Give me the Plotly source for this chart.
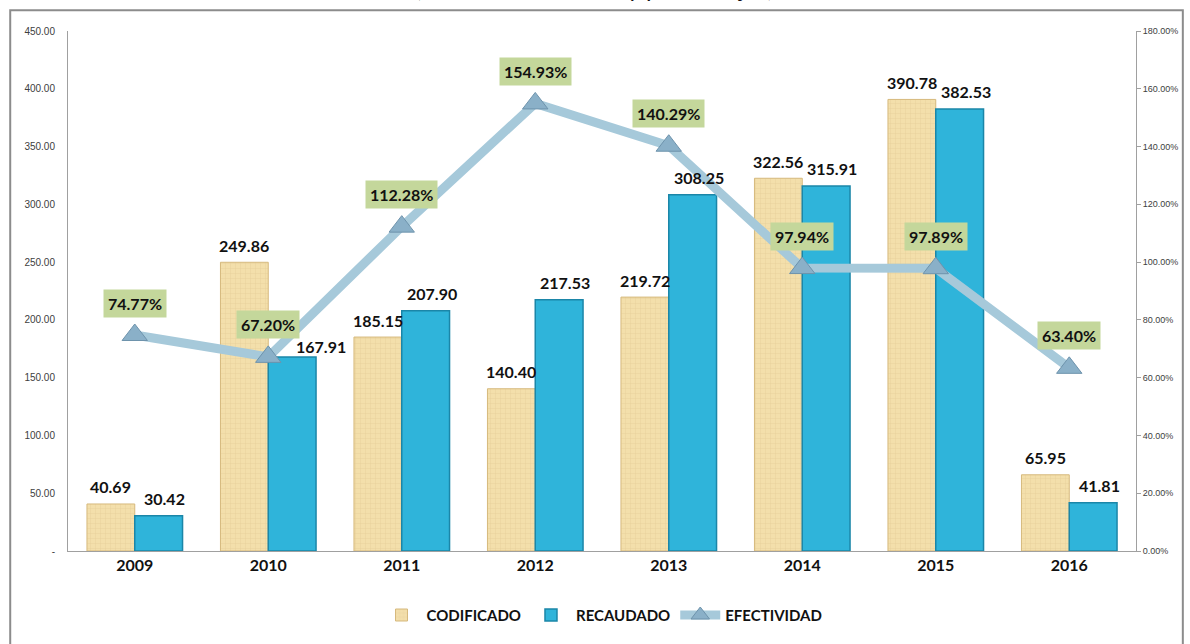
import plotly.graph_objects as go

# Datos anuales (millones de dólares) y efectividad de recaudación
anios = ["2009", "2010", "2011", "2012", "2013", "2014", "2015", "2016"]
codificado = [40.69, 249.86, 185.15, 140.40, 219.72, 322.56, 390.78, 65.95]
recaudado = [30.42, 167.91, 207.90, 217.53, 308.25, 315.91, 382.53, 41.81]
efectividad = [0.7477, 0.6720, 1.1228, 1.5493, 1.4029, 0.9794, 0.9789, 0.6340]

ticks_izq = [0, 50, 100, 150, 200, 250, 300, 350, 400, 450]
ticks_izq_txt = ["-"] + [f"{v:.2f}" for v in ticks_izq[1:]]
ticks_der = [0, 0.2, 0.4, 0.6, 0.8, 1.0, 1.2, 1.4, 1.6, 1.8]

W, H = 1190, 644
L, R, T, B = 68, 50, 31, 87
pw, ph = W - L - R, H - T - B
BARGAP = 0.284
half = (1 - BARGAP) / 4  # distance from category centre to each bar centre

# Desplazamientos (px) de las etiquetas de RECAUDADO; la de 2010 se aparta
# del marcador de efectividad
rec_dx = {i: 6 for i in range(len(anios))}
rec_dy = {i: 17 for i in range(len(anios))}
rec_dx[1], rec_dy[1] = 29, 10


def px_x(p):
    return (p - L) / pw


def px_y(p):
    return (H - B - p) / ph


FONT = "Lato"
LABEL_FONT = dict(family=FONT, size=16, color="#111111", weight="bold")

fig = go.Figure()

fig.add_trace(go.Bar(
    name="CODIFICADO", x=anios, y=codificado,
    marker=dict(
        color="#F1DCA6",
        line=dict(color="#D6B97D", width=1),
        pattern=dict(shape="+", fgcolor="#DCC38C", bgcolor="#F3DFAB",
                     size=5, solidity=0.15, fgopacity=0.6),
    ),
))

fig.add_trace(go.Bar(
    name="RECAUDADO", x=anios, y=recaudado,
    marker=dict(color="#2FB4DA", line=dict(color="#1B86A8", width=1.5)),
))

fig.add_trace(go.Scatter(
    name="EFECTIVIDAD", x=anios, y=efectividad, yaxis="y2",
    mode="lines+markers",
    line=dict(color="#A6C9DA", width=9),
    marker=dict(symbol="triangle-up", size=22, color="#8AB0C8",
                line=dict(color="#6E93AC", width=1)),
    cliponaxis=False,
))

annotations = []
# Valores sobre las barras (encima de la línea de efectividad)
for i, v in enumerate(codificado):
    annotations.append(dict(
        x=i - half, y=v, xref="x", yref="y", yanchor="middle", yshift=17,
        text=f"{v:.2f}", showarrow=False, font=LABEL_FONT,
    ))
for i, v in enumerate(recaudado):
    annotations.append(dict(
        x=i + half, y=v, xref="x", yref="y", yanchor="middle",
        yshift=rec_dy[i], xshift=rec_dx[i],
        text=f"{v:.2f}", showarrow=False, font=LABEL_FONT,
    ))
# Porcentajes de efectividad en recuadro verde
for i, e in enumerate(efectividad):
    annotations.append(dict(
        x=i, y=e, xref="x", yref="y2", yshift=32,
        text=f"{e*100:.2f}%", showarrow=False, font=LABEL_FONT,
        bgcolor="#C4D79B", borderpad=4,
    ))

# Subtítulo en la parte superior del recuadro
annotations.append(dict(
    x=px_x(596), y=px_y(4), xref="paper", yref="paper",
    xanchor="center", yanchor="bottom",
    text="(millones de dólares y porcentajes)", showarrow=False,
    font=dict(family=FONT, size=24, color="#111111"),
))

fig.update_layout(
    width=W, height=H,
    margin=dict(l=L, r=R, t=T, b=B),
    paper_bgcolor="white", plot_bgcolor="white",
    barmode="group", bargap=BARGAP, bargroupgap=0,
    font=dict(family=FONT),
    xaxis=dict(
        type="category", range=[-0.5, 7.5], showgrid=False, showline=True,
        linecolor="#A0A0A0", linewidth=1, ticks="",
        tickfont=dict(family=FONT, size=16, color="#111111", weight="bold"),
    ),
    yaxis=dict(
        range=[0, 450], tickvals=ticks_izq, ticktext=ticks_izq_txt,
        showgrid=False, zeroline=False, showline=True,
        linecolor="#A0A0A0", linewidth=1, ticks="",
        tickfont=dict(family="Liberation Sans", size=10, color="#404040"),
        ticklabelstandoff=10,
    ),
    yaxis2=dict(
        range=[0, 1.8], tickvals=ticks_der, tickformat=".2%",
        overlaying="y", side="right",
        showgrid=False, zeroline=False, showline=True,
        linecolor="#A0A0A0", linewidth=1, ticks="outside", ticklen=4,
        tickcolor="#A0A0A0",
        tickfont=dict(family="Liberation Sans", size=9, color="#404040"),
    ),
    legend=dict(
        orientation="h", x=0.5, xanchor="center",
        y=px_y(622), yanchor="middle",
        font=dict(family=FONT, size=15, color="#111111", weight="bold"),
        itemwidth=40, traceorder="normal",
    ),
    annotations=annotations,
    shapes=[dict(
        type="rect", xref="paper", yref="paper",
        x0=px_x(10), x1=px_x(1187), y0=px_y(660), y1=px_y(10),
        line=dict(color="#8C8C8C", width=2), fillcolor="rgba(0,0,0,0)",
        layer="below",
    )],
)

fig.write_html("out.html")
